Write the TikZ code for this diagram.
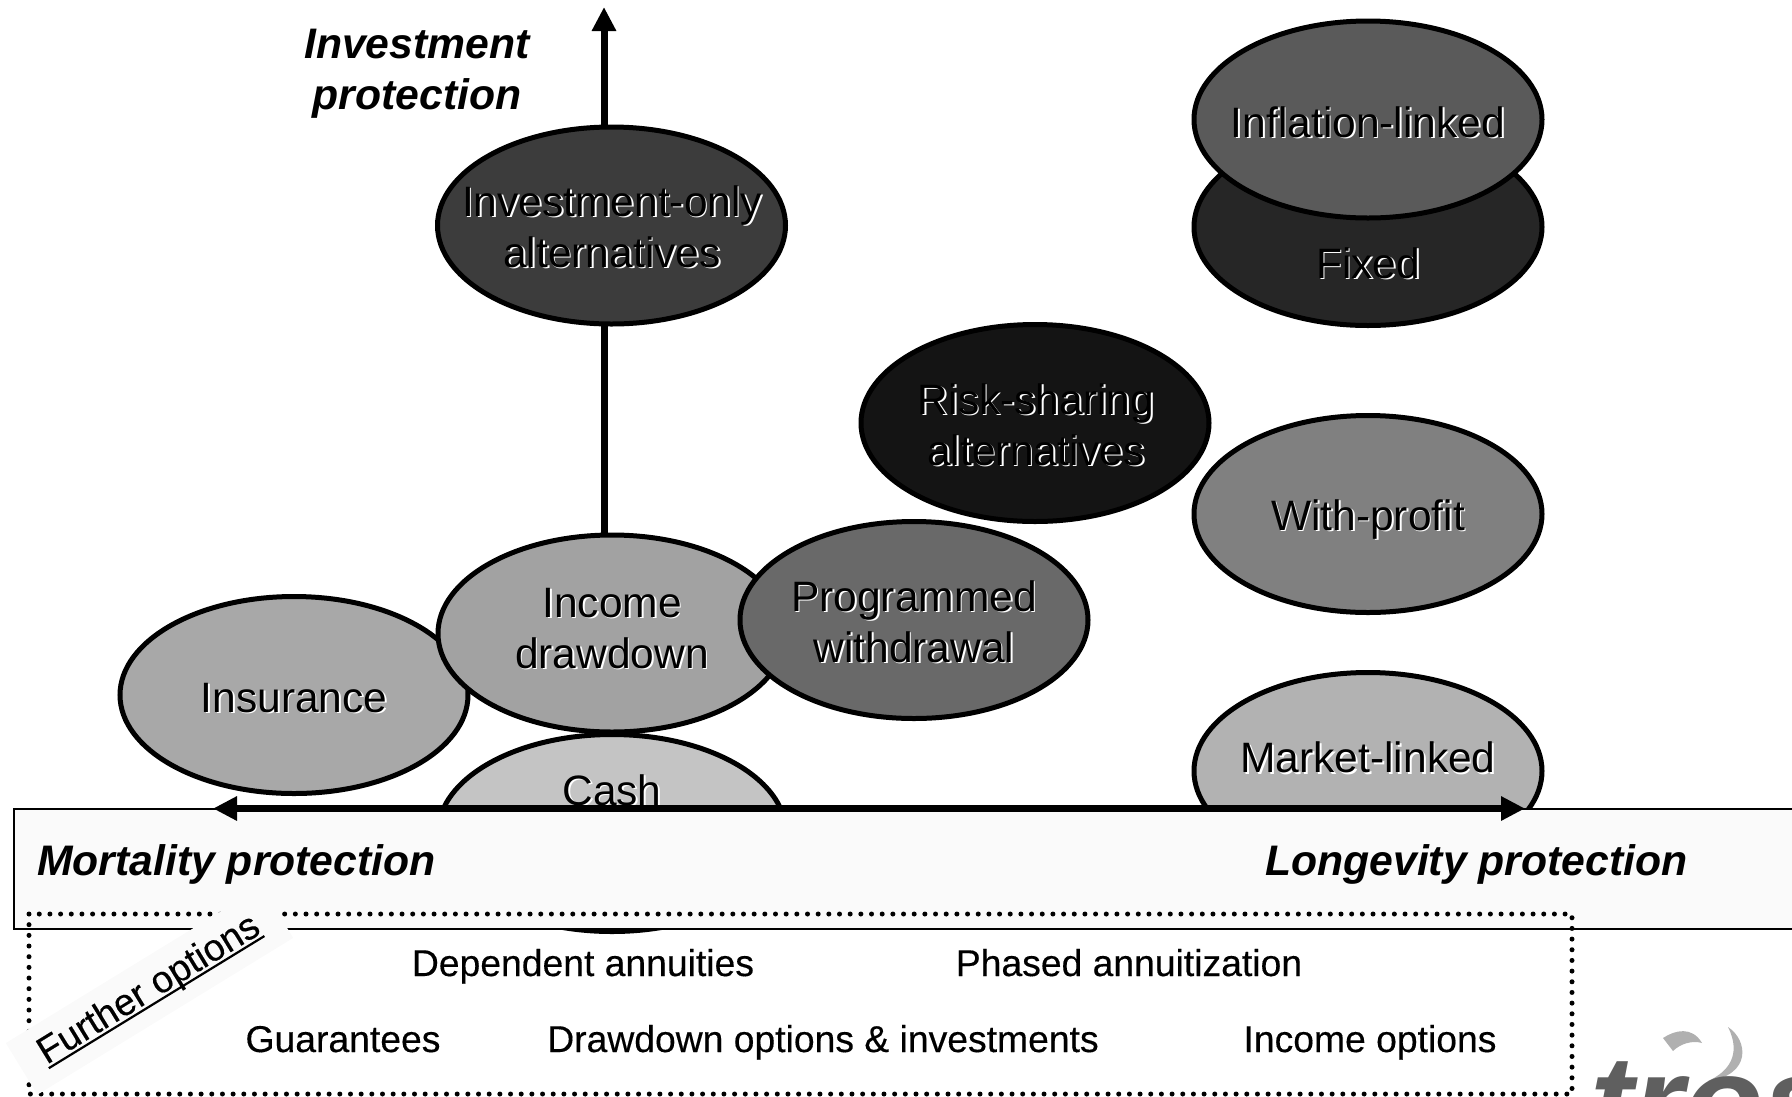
\documentclass[tikz,border=0pt]{standalone}
\usepackage{fontspec}
\setmainfont{Liberation Sans}
\newfontfamily\optfont[FakeBold=0.35]{Liberation Sans}
\usetikzlibrary{arrows.meta,shapes.geometric}
\definecolor{bandfill}{HTML}{FAFAFA}
\definecolor{swoosh}{HTML}{B0B0B0}
\definecolor{logogrey}{HTML}{5F5F5F}
\definecolor{cfixed}{HTML}{262626}
\definecolor{cinfl}{HTML}{5A5A5A}
\definecolor{cinv}{HTML}{3C3C3C}
\definecolor{crisk}{HTML}{141414}
\definecolor{cwith}{HTML}{808080}
\definecolor{cprog}{HTML}{696969}
\definecolor{cincome}{HTML}{A2A2A2}
\definecolor{cins}{HTML}{A8A8A8}
\definecolor{ccash}{HTML}{C4C4C4}
\definecolor{cmarket}{HTML}{B2B2B2}
\tikzset{
  oval/.style={ellipse,draw=black,line width=5pt,inner sep=0pt,minimum width=348pt,minimum height=197pt,fill=#1},
  lab/.style={font=\fontsize{42.5}{51}\selectfont,text=black,align=center,inner sep=0pt,anchor=center},
  labshade/.style={lab,text=white},
  axis/.style={-{Triangle[length=24pt,width=23pt]}},
  axislab/.style={font=\fontsize{42.7}{51}\selectfont\bfseries\itshape,inner sep=0pt,align=center},
  opt/.style={font=\optfont\fontsize{37.3}{44}\selectfont,inner sep=0pt,anchor=base},
  dotbox/.style={line width=5pt,line cap=round,dash pattern=on 0pt off 10.67pt},
}
\newcommand{\emb}[3]{%
  \node[labshade] at ([shift={(1.7,1.7)}]#2) {#3};
  \node[lab] (#1) at (#2) {#3};}
\newcommand{\thickul}[1]{\setbox0=\hbox{#1}\rlap{\rule[-5pt]{\wd0}{2.2pt}}\box0}
\begin{document}
\begin{tikzpicture}[x=1pt,y=-1pt]
\useasboundingbox (0,0) rectangle (1792,1096);
\coordinate (ytop) at (604,7);
\coordinate (yorigin) at (604,808.5);
\coordinate (xleft) at (213,808.5);
\coordinate (xright) at (1525,808.5);
\draw[axis,line width=7pt] (yorigin) -- (ytop);

\node[oval=cfixed] (fixed) at (1368,227) {};
\emb{tfixed}{1368,267.8}{\strut Fixed}
\node[oval=cinfl] (inflation) at (1368,119.5) {};
\emb{tinflation}{1368,126.8}{\strut Inflation-linked}
\node[oval=cinv] (investment) at (611.5,225.5) {};
\emb{tinvestment}{612,231.5}{\strut Investment-only\\\strut alternatives}
\node[oval=crisk] (risk) at (1035,423) {};
\emb{trisk}{1036,429.3}{\strut Risk-sharing\\\strut alternatives}
\node[oval=cwith] (withprofit) at (1368,514) {};
\emb{twith}{1368,519.8}{\strut With-profit}
\node[oval=cmarket] (market) at (1368,771) {};
\emb{tmarket}{1368,762.3}{\strut Market-linked}
\node[oval=ccash] (cash) at (612,833) {};
\emb{tcash}{612,794.8}{\strut Cash}
\node[oval=cins] (insurance) at (294,695) {};
\emb{tinsurance}{294,701.8}{\strut Insurance}
\node[oval=cincome] (income) at (612,633.5) {};
\emb{tincome}{612,632.3}{\strut Income\\\strut drawdown}
\node[oval=cprog] (programmed) at (914,620) {};
\emb{tprog}{914,626.3}{\strut Programmed\\\strut withdrawal}

% band
\path[fill=bandfill] (14,809) rectangle (1800,929);
\draw[line width=2pt] (1800,809) -- (14,809) -- (14,929) -- (1800,929);
\draw[axis,line width=7.5pt] (yorigin) -- (xright);
\draw[axis,line width=7.5pt] (yorigin) -- (xleft);

\node[axislab,anchor=base west] (mortality) at (37,875) {Mortality protection};
\node[axislab,anchor=base west] (longevity) at (1265,875) {Longevity protection};
\node[axislab,anchor=center] (invprot) at (417,74) {\strut Investment\\\strut protection};

% further options
\draw[dotbox] (29,914) rectangle (1572,1094);
\node[rotate=31.5,fill=bandfill,minimum width=300pt,minimum height=60.5pt,inner sep=0pt,font=\optfont\fontsize{37.6}{44}\selectfont] (further) at (149.5,990.5) {\raisebox{-1pt}{\thickul{Further options}}};

\node[opt] (dep) at (583,976) {Dependent annuities};
\node[opt] (phased) at (1129,976) {Phased annuitization};
\node[opt] (guar) at (343,1052) {Guarantees};
\node[opt] (drawopt) at (823,1052) {Drawdown options \& investments};
\node[opt] (incopt) at (1370,1052) {Income options};

% logo
\begin{scope}
\clip (1580,1020) rectangle (1792,1096);
\fill[swoosh] (1663,1038) .. controls (1675,1030) and (1692,1026) .. (1702,1043)
  .. controls (1692,1040) and (1680,1044) .. (1673,1051) -- cycle;
\fill[swoosh] (1728,1027) .. controls (1748,1040) and (1752,1075) .. (1708,1081)
  .. controls (1728,1072) and (1742,1055) .. (1728,1027) -- cycle;
\node[inner sep=0pt,anchor=base west,text=logogrey,font=\fontsize{130}{130}\selectfont\bfseries\itshape] (logo) at (1590,1146) {tros};
\end{scope}
\end{tikzpicture}
\end{document}
